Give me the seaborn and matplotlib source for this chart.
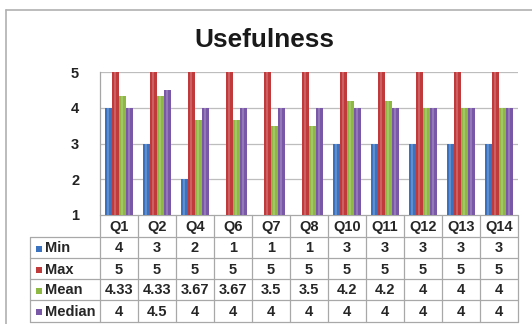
import matplotlib
matplotlib.use("Agg")
import matplotlib.pyplot as plt
from matplotlib.patches import Rectangle
import pandas as pd
import seaborn as sns

questions = ["Q1", "Q2", "Q4", "Q6", "Q7", "Q8", "Q10", "Q11", "Q12", "Q13", "Q14"]
min_vals = [4, 3, 2, 1, 1, 1, 3, 3, 3, 3, 3]
max_vals = [5, 5, 5, 5, 5, 5, 5, 5, 5, 5, 5]
mean_vals = [4.33, 4.33, 3.67, 3.67, 3.5, 3.5, 4.2, 4.2, 4, 4, 4]
median_vals = [4, 4.5, 4, 4, 4, 4, 4, 4, 4, 4, 4]
stat_names = ["Min", "Max", "Mean", "Median"]
y_ticks = [1, 2, 3, 4, 5]

colors = ["#3a72bf", "#c0393b", "#8db841", "#7a58a8"]
series = [min_vals, max_vals, mean_vals, median_vals]

rows = []
for name, vals in zip(stat_names, series):
    for q, v in zip(questions, vals):
        rows.append({"Question": q, "Stat": name, "Value": v})
df = pd.DataFrame(rows)

sns.set_theme(style="white")
plt.rcParams["font.family"] = ["Liberation Sans", "DejaVu Sans"]

W, H = 532, 324
fig = plt.figure(figsize=(W / 100, H / 100), dpi=100)

# overlay axes in pixel units (y grows downward) for frame, title and table
ov = fig.add_axes([0, 0, 1, 1])
ov.set_xlim(0, W)
ov.set_ylim(H, 0)
ov.axis("off")

# plot area in pixel coordinates
PL, PR, PT, PB = 100, 518, 72, 215
ax = fig.add_axes([PL / W, 1 - PB / H, (PR - PL) / W, (PB - PT) / H])

sns.barplot(data=df, x="Question", y="Value", hue="Stat", palette=colors,
            width=0.75, ax=ax, legend=False, saturation=1, errorbar=None,
            linewidth=0)
ax.set_ylim(1, 5)
ax.set_xlim(-0.5, len(questions) - 0.5)
ax.set_yticks(y_ticks)
ax.set_yticklabels([str(t) for t in y_ticks], fontsize=10.5, fontweight="bold",
                   color="#222222")
ax.tick_params(axis="y", length=0, pad=15)
ax.set_xticks([])
ax.set_xlabel("")
ax.set_ylabel("")
ax.grid(False)
for yv in y_ticks[1:]:
    ax.axhline(yv, color="#bdbdbd", lw=0.9, zorder=0)
for side in ["top", "right", "bottom"]:
    ax.spines[side].set_visible(False)
ax.spines["left"].set_color("#a6a6a6")
ax.spines["left"].set_linewidth(0.9)
ax.set_facecolor("none")

# soft highlight stripe to give the bars a rounded look
for patch in list(ax.patches):
    x0 = patch.get_x()
    w = patch.get_width()
    h = patch.get_height()
    ax.add_patch(Rectangle((x0 + w * 0.3, 0), w * 0.3, h,
                           facecolor="white", alpha=0.2, lw=0, zorder=3))

# title
ov.text(264, 40, "Usefulness", ha="center", va="center",
        fontsize=18.8, fontweight="bold", color="#1a1a1a")

# outer chart frame
ov.plot([6, 6], [10, 330], color="#b0b0b0", lw=1.2, clip_on=False)
ov.plot([6, 540], [10, 10], color="#b0b0b0", lw=1.2, clip_on=False)

# data table under the axis
line_c = "#a8a8a8"
col_w = (PR - PL) / len(questions)
row_tops = [215, 237, 258, 279, 300, 322]
TL = 30

ov.plot([PL, PR], [row_tops[0], row_tops[0]], color=line_c, lw=0.9)
for y in row_tops[1:]:
    ov.plot([TL, PR], [y, y], color=line_c, lw=0.9)
ov.plot([TL, TL], [row_tops[1], row_tops[-1]], color=line_c, lw=0.9)
for i in range(len(questions) + 1):
    xv = PL + i * col_w
    ov.plot([xv, xv], [row_tops[0], row_tops[-1]], color=line_c, lw=0.9)

txt_c = "#262626"
for i, q in enumerate(questions):
    cx = PL + (i + 0.5) * col_w
    ov.text(cx, (row_tops[0] + row_tops[1]) / 2 + 1, q,
            ha="center", va="center", fontsize=10.5, fontweight="bold",
            color=txt_c)
    for r, vals in enumerate(series):
        cy = (row_tops[r + 1] + row_tops[r + 2]) / 2 + 1
        ov.text(cx, cy, f"{vals[i]:g}", ha="center", va="center",
                fontsize=10.5, fontweight="bold", color=txt_c)

for r, (name, c) in enumerate(zip(stat_names, colors)):
    cy = (row_tops[r + 1] + row_tops[r + 2]) / 2
    ov.add_patch(Rectangle((36, cy - 2), 6, 6, facecolor=c, edgecolor="none"))
    ov.text(45, cy + 1, name, ha="left", va="center", fontsize=10.5,
            fontweight="bold", color=txt_c)

fig.savefig("out.png", dpi=100)
